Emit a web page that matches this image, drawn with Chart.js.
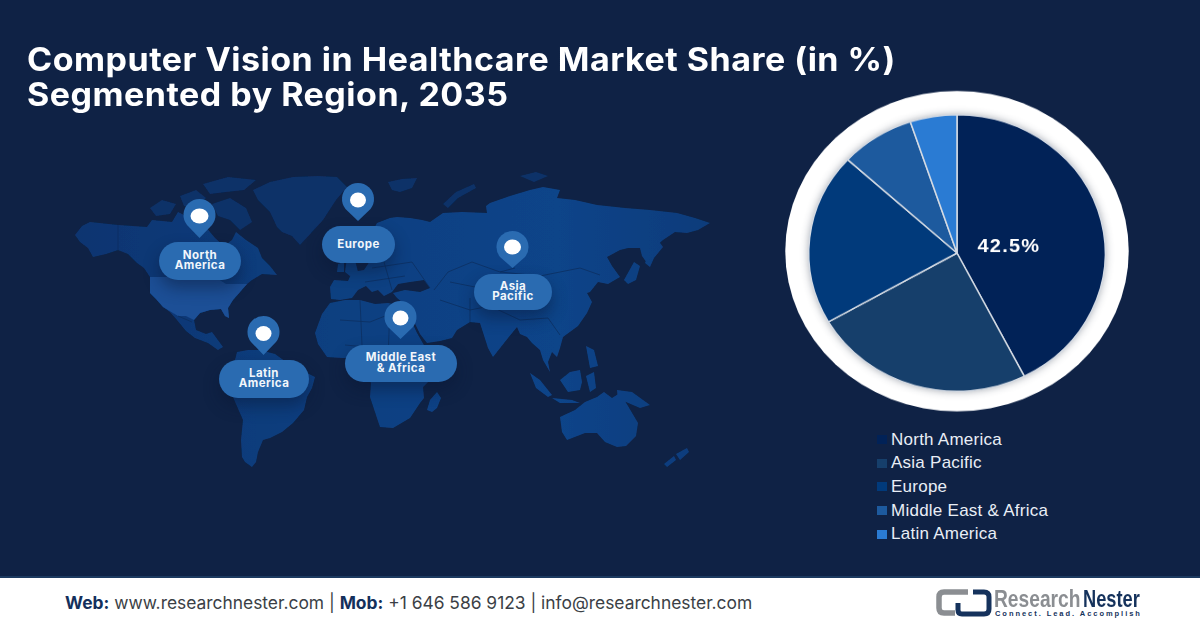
<!DOCTYPE html>
<html>
<head>
<meta charset="utf-8">
<title>Computer Vision in Healthcare Market Share</title>
<script src="https://cdn.jsdelivr.net/npm/chart.js@4/dist/chart.umd.min.js"></script>
<style>
  html, body { margin: 0; padding: 0; }
  #page { position: relative; width: 1200px; height: 628px; overflow: hidden; background: #0f2245; font-family: Inter, sans-serif; }
  h1 { position: absolute; left: 27px; top: 41.5px; margin: 0; font-size: 32px; line-height: 35.5px; font-weight: 700; color: #fff; letter-spacing: 0.47px; white-space: nowrap; transform: scaleX(1.0626); transform-origin: 0 0; }
  #map { position: absolute; left: 0; top: 0; }
  .pill { position: absolute; display: flex; align-items: center; justify-content: center; text-align: center; background: #2a6bb1; color: #f2f6fb; border-radius: 19px; font-size: 11.5px; line-height: 10.5px; font-weight: 700; letter-spacing: 0.45px; box-shadow: 0 8px 16px rgba(8, 22, 50, 0.45); box-sizing: border-box; padding-bottom: 1.5px; }
  #chart-wrap { position: absolute; left: 777px; top: 73px; width: 360px; height: 360px; transform: scaleY(0.9327); transform-origin: 50% 50%; }
  #legend { position: absolute; left: 877px; top: 428px; color: #e9eef6; font-family: "Liberation Sans", Arial, sans-serif; font-size: 17px; letter-spacing: 0.25px; }
  #legend div { display: flex; align-items: center; height: 23.6px; white-space: nowrap; }
  #legend i { display: block; width: 10px; height: 9px; margin-right: 4px; }
  #footer { position: absolute; left: 0; top: 576px; width: 1200px; height: 52px; background: #fff; border-top: 2px solid #1c3a60; box-sizing: border-box; }
  #contact { position: absolute; left: 65px; top: 14px; font-size: 17.4px; color: #3b3f46; white-space: nowrap; }
  #contact b { color: #14305c; }
  #brand1, #brand2, #tagline { position: absolute; white-space: nowrap; font-family: "Liberation Sans", sans-serif; font-weight: 700; transform-origin: 0 0; }
  #brand1 { left: 994px; top: 7px; font-size: 24px; color: #8b8e92; transform: scaleX(0.8); }
  #brand2 { left: 1083px; top: 7px; font-size: 24px; color: #15325c; transform: scaleX(0.76); }
  #tagline { left: 995px; top: 31px; font-size: 7.5px; letter-spacing: 1.95px; color: #15325c; }
</style>
</head>
<body>
<div id="page">
  <h1>Computer Vision in Healthcare Market Share (in %)<br>Segmented by Region, 2035</h1>

  <!-- rough world map behind the markers, only decoration -->
  <svg id="map" width="1200" height="628" viewBox="0 0 1200 628">
    <defs>
      <filter id="soft"><feGaussianBlur stdDeviation="0.6"/></filter>
      <linearGradient id="land" gradientUnits="userSpaceOnUse" x1="70" y1="0" x2="720" y2="0">
        <stop offset="0" stop-color="#0b3470"/>
        <stop offset="0.4" stop-color="#0d3f80"/>
        <stop offset="0.75" stop-color="#0e4489"/>
        <stop offset="1" stop-color="#0c3b7a"/>
      </linearGradient>
    </defs>
    <g fill="url(#land)" filter="url(#soft)">
      <!-- North and Central America -->
      <polygon points="75,235 82,226 90,222 118,225 147,227 152,220 172,222 178,212 190,218 196,226 205,226 215,238 224,246 232,240 236,232 246,240 258,248 262,258 270,266 277,275 262,274 252,280 247,284 240,292 233,300 228,308 229,318 225,316 221,309 210,310 200,313 194,320 196,330 206,334 212,332 223,347 218,350 208,343 195,338 186,331 177,320 170,312 163,307 156,299 150,293 150,277 144,268 137,263 128,254 118,250 106,254 93,257 88,248 80,242"/>
      <!-- South America -->
      <polygon points="237,352 248,350 260,350 275,354 293,367 305,372 315,377 312,388 307,397 304,410 293,423 282,432 270,438 263,440 258,452 256,462 252,467 245,462 242,457 241,440 243,420 236,404 230,390 232,372"/>
      <!-- Africa -->
      <polygon points="330,303 345,300 360,300 375,304 388,303 402,306 410,318 417,333 425,347 435,355 447,357 440,372 430,380 423,387 424,398 420,403 410,418 393,428 380,427 375,412 370,397 371,383 364,368 355,358 342,358 327,357 318,344 315,333 322,314"/>
      <polygon points="437,392 441,398 437,408 432,412 427,410 430,400"/>
      <!-- Eurasia -->
      <polygon points="330,287 334,280 348,281 352,272 364,270 372,258 368,244 372,232 377,223 390,218 397,217 410,218 422,220 430,222 443,213 462,212 487,213 486,206 490,203 510,196 530,190 543,187 560,190 557,198 575,200 597,205 625,208 650,210 677,213 695,218 710,223 698,230 687,233 675,232 663,240 652,250 647,263 642,256 640,248 628,248 620,250 607,257 612,266 620,277 608,284 598,282 590,292 587,293 592,302 587,313 578,326 563,337 560,348 557,357 552,352 548,362 550,372 543,360 540,350 532,343 527,337 520,334 517,327 508,338 493,357 488,348 480,323 470,322 457,330 452,338 440,341 427,343 420,334 410,313 402,302 397,298 393,293 405,290 420,292 430,288 424,280 410,282 398,284 392,292 384,296 378,290 372,292 366,286 358,290 352,298 340,300 331,299"/>
      <!-- UK and Ireland -->
      <polygon points="347,258 354,256 358,272 350,276 345,272"/>
      <polygon points="338,264 344,262 344,272 337,272"/>
      <!-- Japan and Sakhalin -->
      <polygon points="658,240 663,247 654,258 650,267 645,263 650,250"/>
      <polygon points="634,262 640,266 636,280 628,284 624,280"/>
      <!-- Islands of South East Asia -->
      <polygon points="530,373 540,380 552,395 548,397 536,388"/>
      <polygon points="560,380 570,372 580,370 582,382 580,390 568,392"/>
      <polygon points="552,398 572,400 580,403 560,403"/>
      <polygon points="586,376 594,372 596,388 590,392"/>
      <polygon points="586,346 594,350 598,366 590,368"/>
      <polygon points="617,390 632,392 650,405 640,408 626,402 618,400"/>
      <!-- Australia and New Zealand -->
      <polygon points="560,417 575,410 585,402 597,397 604,392 612,398 620,393 628,406 638,423 636,436 626,446 617,447 605,442 597,433 585,433 567,440 562,432"/>
      <polygon points="687,448 689,452 680,460 676,454"/>
      <polygon points="674,456 676,460 667,467 664,464"/>
    </g>
    <!-- far north is darker in the reference -->
    <g fill="#0c3168" filter="url(#soft)">
      <polygon points="150,208 162,200 176,204 170,214 156,216"/>
      <polygon points="180,196 196,190 206,198 196,208 184,206"/>
      <polygon points="203,184 228,177 256,180 244,190 226,192 210,194"/>
      <polygon points="212,204 230,198 246,208 252,222 240,230 230,220 218,216"/>
      <polygon points="253,190 270,182 293,177 318,176 337,177 347,187 336,200 323,220 312,232 300,245 292,236 282,232 277,227 270,212 258,200"/>
      <polygon points="388,182 402,179 417,178 412,188 400,192 392,190"/>
      <polygon points="443,204 456,192 474,184 476,188 458,198 448,208"/>
      <polygon points="520,176 536,172 548,176 534,182"/>
    </g>
    <!-- USA a bit lighter -->
    <polygon fill="#1b4f96" filter="url(#soft)" points="150,277 215,277 226,284 238,284 247,284 240,292 233,300 228,308 229,318 225,316 221,309 210,310 200,313 194,320 186,316 178,316 163,307 156,299 150,293"/>
    <!-- some borders -->
    <g fill="none" stroke="#0b2c5c" stroke-width="0.7">
      <path d="M118,225 L118,250"/>
      <path d="M178,316 L192,322"/>
      <path d="M340,320 L370,322 L395,312 M360,300 L362,345 M390,304 L388,360 M345,345 L420,352"/>
      <path d="M372,268 L412,262 L430,288 M365,282 L405,276 M384,262 L392,290"/>
      <path d="M434,290 L448,272 L472,262 L500,272 L515,268 M440,300 L470,310 L490,306 L520,320 M470,322 L470,298 M450,282 L490,290"/>
      <path d="M500,272 L540,276 L580,268 L600,275 M560,335 L548,318 L520,320"/>
    </g>
    <!-- location pins -->
    <g fill="#2a6bb1">
      <path d="M199.5,238 L187,225 A16,16 0 1 1 212,225 Z"/>
      <path d="M358,221 L345.5,209 A16,16 0 1 1 370.5,209 Z"/>
      <path d="M512.5,268 L500,257 A16,16 0 1 1 525,257 Z"/>
      <path d="M263.5,355 L251,342 A16,16 0 1 1 276,342 Z"/>
      <path d="M400.5,339 L388,327 A16,16 0 1 1 413,327 Z"/>
    </g>
    <g fill="#fff">
      <ellipse cx="199.5" cy="216" rx="9" ry="7.5"/>
      <ellipse cx="358" cy="200" rx="8" ry="7.5"/>
      <ellipse cx="512.5" cy="247" rx="8.5" ry="7.5"/>
      <ellipse cx="263.5" cy="333.5" rx="8" ry="7.5"/>
      <ellipse cx="400.5" cy="318" rx="8" ry="7.5"/>
    </g>
  </svg>

  <div class="pill" style="left:159px;top:242px;width:82px;height:38px">North<br>America</div>
  <div class="pill" style="left:322px;top:226px;width:73px;height:37px;padding-bottom:0">Europe</div>
  <div class="pill" style="left:474px;top:274px;width:78px;height:36px">Asia<br>Pacific</div>
  <div class="pill" style="left:219px;top:360px;width:90px;height:38px">Latin<br>America</div>
  <div class="pill" style="left:345px;top:345px;width:112px;height:37px">Middle East<br>&amp; Africa</div>

  <div id="chart-wrap"><canvas id="pie" width="360" height="360"></canvas></div>
  <div id="legend"></div>

  <div id="footer">
    <div id="contact"><b>Web:</b> www.researchnester.com | <b>Mob:</b> +1 646 586 9123 | info@researchnester.com</div>
    <svg style="position:absolute;left:936px;top:8px" width="58" height="34" viewBox="0 0 58 34">
      <path d="M32,6 H8 Q3,6 3,11 V22 Q3,27 8,27 H19" fill="none" stroke="#8b8e92" stroke-width="5.5"/>
      <path d="M37,6 H48 Q53,6 53,11 V23 Q53,28 48,28 H26 Q22,28 22,24 V17" fill="none" stroke="#15325c" stroke-width="5"/>
    </svg>
    <div id="brand1">Research</div>
    <div id="brand2">Nester</div>
    <div id="tagline">Connect. Lead. Accomplish</div>
  </div>
</div>

<script>
// Chart data
const regions = ["North America", "Asia Pacific", "Europe", "Middle East & Africa", "Latin America"];
const shares = [42.5, 24.2, 20.1, 8.1, 5.1];
const sliceColors = ["#012257", "#163f6b", "#013a7b", "#1d5a9e", "#2a7bd3"];
const labelledSlices = ["North America"];

// White ring behind the pie
const ringPlugin = {
  id: "ring",
  beforeDatasetsDraw(chart) {
    const arc = chart.getDatasetMeta(0).data[0];
    const ctx = chart.ctx;
    ctx.save();
    ctx.fillStyle = "#ffffff";
    ctx.beginPath();
    ctx.arc(arc.x, arc.y - 2, arc.outerRadius + 23.5, 0, Math.PI * 2);
    ctx.fill();
    // soft grey inside the ring
    ctx.shadowColor = "rgba(40,50,70,0.45)";
    ctx.shadowBlur = 8;
    ctx.fillStyle = "#8a93a3";
    ctx.beginPath();
    ctx.arc(arc.x, arc.y, arc.outerRadius, 0, Math.PI * 2);
    ctx.fill();
    ctx.restore();
  }
};

// Value label on the biggest slice only
const sliceLabelPlugin = {
  id: "sliceLabel",
  afterDatasetsDraw(chart) {
    const ctx = chart.ctx;
    chart.getDatasetMeta(0).data.forEach((arc, i) => {
      if (!labelledSlices.includes(regions[i])) return;
      const mid = (arc.startAngle + arc.endAngle) / 2;
      const dist = arc.outerRadius * 0.36;
      ctx.save();
      ctx.fillStyle = "#ffffff";
      ctx.font = "700 20px 'Liberation Sans', Arial, sans-serif";
      ctx.letterSpacing = "1.2px";
      ctx.textAlign = "center";
      ctx.textBaseline = "middle";
      ctx.fillText(shares[i].toFixed(1) + "%", arc.x + Math.cos(mid) * dist, arc.y + Math.sin(mid) * dist + 6);
      ctx.restore();
    });
  }
};

const pieChart = new Chart(document.getElementById("pie"), {
  type: "pie",
  plugins: [ringPlugin, sliceLabelPlugin],
  data: {
    labels: regions,
    datasets: [{
      data: shares,
      backgroundColor: sliceColors,
      borderColor: "#d5dbe4",
      borderWidth: 1.5
    }]
  },
  options: {
    responsive: false,
    animation: false,
    layout: { padding: 31 },
    plugins: {
      legend: { display: false },
      tooltip: { enabled: false }
    }
  }
});

// Legend is plain html so it can sit under the ring
const legendBox = document.getElementById("legend");
pieChart.data.labels.forEach((name, i) => {
  const row = document.createElement("div");
  const swatch = document.createElement("i");
  swatch.style.background = sliceColors[i];
  row.appendChild(swatch);
  row.appendChild(document.createTextNode(name));
  legendBox.appendChild(row);
});
</script>
</body>
</html>
